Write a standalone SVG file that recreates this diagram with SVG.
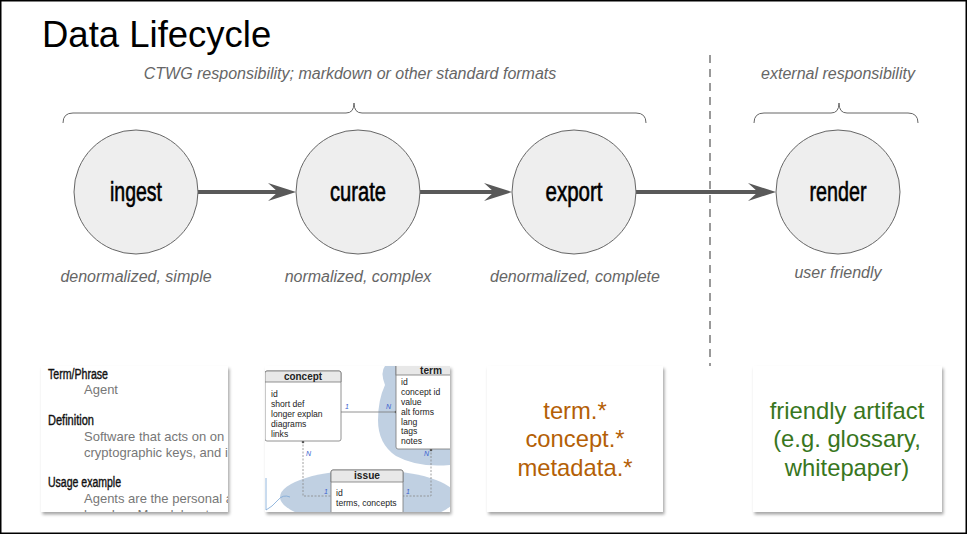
<svg xmlns="http://www.w3.org/2000/svg" width="968" height="535" viewBox="0 0 968 535">
<style>
.title{font-family:"Liberation Sans",Arial,sans-serif;font-size:36.5px;fill:#000}
.note{font-family:"Liberation Sans",Arial,sans-serif;font-style:italic;font-size:16px;fill:#666;text-anchor:middle}
.node{fill:#eeeeee;stroke:#666;stroke-width:1}
.nlabel{font-family:"Liberation Sans",Arial,sans-serif;font-size:27px;fill:#000;stroke:#000;stroke-width:0.6;text-anchor:middle}
.brace{fill:none;stroke:#666;stroke-width:1}
.flow{stroke:#595959;stroke-width:4;fill:none}
.head{fill:#595959}
.card{fill:#fff;filter:url(#sh)}
.orange{font-family:"Liberation Sans",Arial,sans-serif;font-size:23.8px;fill:#b45f06;text-anchor:middle}
.green{font-family:"Liberation Sans",Arial,sans-serif;font-size:23.8px;fill:#38761d;text-anchor:middle}
.h{font-family:"Liberation Sans",Arial,sans-serif;font-size:14px;fill:#111;stroke:#111;stroke-width:0.4}
.b{font-family:"Liberation Sans",Arial,sans-serif;font-size:13px;fill:#777}
.tb{fill:#fff;stroke:#777;stroke-width:0.8}
.th{fill:#e8e8e8;stroke:#777;stroke-width:0.8}
.tht{font-family:"Liberation Sans",Arial,sans-serif;font-weight:bold;font-size:10px;fill:#222;text-anchor:middle}
.ti{font-family:"Liberation Sans",Arial,sans-serif;font-size:8.6px;fill:#222}
.card-lbl{font-family:"Liberation Sans",Arial,sans-serif;font-style:italic;font-size:7px;fill:#3a5fd0}
.blob{fill:#c0d0e2}
</style>
<defs>
<filter id="sh" x="-10%" y="-10%" width="125%" height="125%">
<feDropShadow dx="1.5" dy="2.5" stdDeviation="1.8" flood-color="#000" flood-opacity="0.35"/>
</filter>
<clipPath id="c1"><rect x="41" y="366" width="187" height="146"/></clipPath>
<clipPath id="c2"><rect x="265" y="366" width="185" height="146"/></clipPath>
</defs>
<rect x="0.75" y="0.75" width="965.5" height="532.5" fill="#fff" stroke="#000" stroke-width="1.5"/>
<text class="title" x="42" y="47">Data Lifecycle</text>
<text class="note" x="350" y="79">CTWG responsibility; markdown or other standard formats</text>
<text class="note" x="838" y="79">external responsibility</text>
<path class="brace" d="M63,123 Q63,113 73,113 L346,113 Q354,113 354,103 Q354,113 362,113 L636,113 Q646,113 646,123"/>
<path class="brace" d="M754,123 Q754,113 764,113 L831,113 Q839,113 839,103 Q839,113 847,113 L908,113 Q918,113 918,123"/>
<line x1="710" y1="55" x2="710" y2="366" stroke="#999" stroke-width="2" stroke-dasharray="8,6"/>
<g id="connectors">
<line class="flow" x1="197" y1="192" x2="280" y2="192"/>
<path class="head" d="M296,192 L268,183 L278,192 L268,201 Z"/>
<line class="flow" x1="420" y1="192" x2="496" y2="192"/>
<path class="head" d="M512,192 L484,183 L494,192 L484,201 Z"/>
<line class="flow" x1="636" y1="192" x2="760" y2="192"/>
<path class="head" d="M776,192 L748,183 L758,192 L748,201 Z"/>
</g>
<g id="ingest"><circle class="node" cx="136" cy="192" r="62"/><text class="nlabel" x="136" y="201" textLength="52" lengthAdjust="spacingAndGlyphs">ingest</text></g>
<g id="curate"><circle class="node" cx="358" cy="192" r="62"/><text class="nlabel" x="358" y="201" textLength="56" lengthAdjust="spacingAndGlyphs">curate</text></g>
<g id="export"><circle class="node" cx="574" cy="192" r="62"/><text class="nlabel" x="574" y="201" textLength="57" lengthAdjust="spacingAndGlyphs">export</text></g>
<g id="render"><circle class="node" cx="838" cy="192" r="62"/><text class="nlabel" x="838" y="201" textLength="57" lengthAdjust="spacingAndGlyphs">render</text></g>
<text class="note" x="136" y="282">denormalized, simple</text>
<text class="note" x="358" y="282">normalized, complex</text>
<text class="note" x="575" y="282">denormalized, complete</text>
<text class="note" x="838" y="278">user friendly</text>
<g id="card-term">
<rect class="card" x="41" y="366" width="187" height="146"/>
<g clip-path="url(#c1)">
<text class="h" x="48" y="379" textLength="60" lengthAdjust="spacingAndGlyphs">Term/Phrase</text>
<text class="b" x="84" y="394">Agent</text>
<text class="h" x="48" y="425" textLength="46" lengthAdjust="spacingAndGlyphs">Definition</text>
<text class="b" x="84" y="441">Software that acts on on I</text>
<text class="b" x="84" y="457">cryptographic keys, and i</text>
<text class="h" x="48" y="487" textLength="73" lengthAdjust="spacingAndGlyphs">Usage example</text>
<text class="b" x="84" y="503">Agents are the personal a</text>
<text class="b" x="84" y="519">how Iron Man delegates</text>
</g>
</g>
<g id="card-er">
<rect class="card" x="265" y="366" width="185" height="146"/>
<g clip-path="url(#c2)">
<path class="blob" d="M385,366 L450,366 L450,465 Q418,468 396,456 Q378,444 378,420 Q378,400 385,385 Q380,372 385,366 Z"/>
<ellipse class="blob" cx="368" cy="497" rx="88" ry="27"/>
<path d="M266,478 L266,510 Q272,507 278,500 Q283,494 290,497" fill="none" stroke="#7aa6d6" stroke-width="0.8"/>
<line x1="341" y1="412" x2="396" y2="412" stroke="#777" stroke-width="0.8"/>
<circle cx="396" cy="412" r="1.3" fill="#555"/>
<path d="M303,441 L303,496 L331,496" fill="none" stroke="#888" stroke-width="0.8" stroke-dasharray="2,1.5"/>
<path d="M431,449 L431,496 L403,496" fill="none" stroke="#888" stroke-width="0.8" stroke-dasharray="2,1.5"/>
<circle cx="303" cy="442" r="1.3" fill="#555"/>
<circle cx="431" cy="450" r="1.3" fill="#555"/>
<text class="card-lbl" x="345" y="409">1</text>
<text class="card-lbl" x="386" y="409">N</text>
<text class="card-lbl" x="306" y="456">N</text>
<text class="card-lbl" x="324" y="494">1</text>
<text class="card-lbl" x="424" y="456">N</text>
<text class="card-lbl" x="406" y="494">1</text>
<rect class="tb" x="265" y="371" width="76" height="70" rx="2"/>
<path class="th" d="M265,382 L265,373 Q265,371 267,371 L339,371 Q341,371 341,373 L341,382 Z"/>
<text class="tht" x="303" y="380" textLength="38" lengthAdjust="spacingAndGlyphs">concept</text>
<text class="ti" x="271" y="397">id</text>
<text class="ti" x="271" y="407">short def</text>
<text class="ti" x="271" y="417">longer explan</text>
<text class="ti" x="271" y="427">diagrams</text>
<text class="ti" x="271" y="437">links</text>
<rect class="tb" x="396" y="364" width="58" height="85" rx="2"/>
<rect class="th" x="396" y="364" width="58" height="11"/>
<text class="tht" x="431" y="374" textLength="22" lengthAdjust="spacingAndGlyphs">term</text>
<text class="ti" x="401" y="385">id</text>
<text class="ti" x="401" y="395">concept id</text>
<text class="ti" x="401" y="405">value</text>
<text class="ti" x="401" y="415">alt forms</text>
<text class="ti" x="401" y="425">lang</text>
<text class="ti" x="401" y="434">tags</text>
<text class="ti" x="401" y="444">notes</text>
<rect class="tb" x="331" y="470" width="72" height="50" rx="2"/>
<path class="th" d="M331,482 L331,472 Q331,470 333,470 L401,470 Q403,470 403,472 L403,482 Z"/>
<text class="tht" x="367" y="479" textLength="26" lengthAdjust="spacingAndGlyphs">issue</text>
<text class="ti" x="336" y="496">id</text>
<text class="ti" x="336" y="506">terms, concepts</text>
</g>
</g>
<g id="card-export">
<rect class="card" x="487" y="366" width="176" height="146"/>
<text class="orange" x="575" y="419">term.*</text>
<text class="orange" x="575" y="447">concept.*</text>
<text class="orange" x="575" y="476">metadata.*</text>
</g>
<g id="card-render">
<rect class="card" x="753" y="366" width="189" height="146"/>
<text class="green" x="847" y="419">friendly artifact</text>
<text class="green" x="847" y="447">(e.g. glossary,</text>
<text class="green" x="847" y="476">whitepaper)</text>
</g>
</svg>
